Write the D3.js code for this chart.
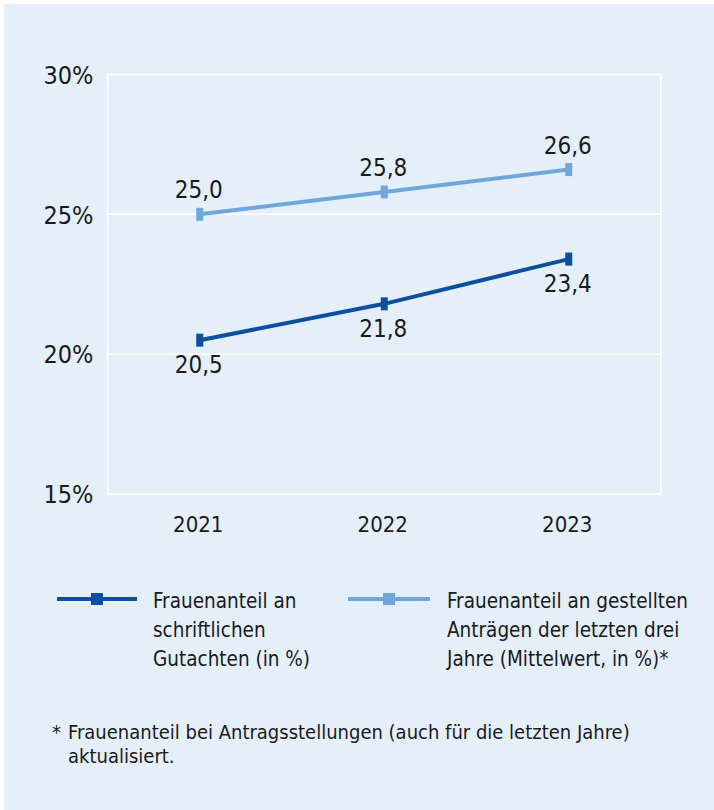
<!DOCTYPE html>
<html>
<head>
<meta charset="utf-8">
<script src="https://cdn.jsdelivr.net/npm/d3@7"></script>
<style>
  html, body { margin: 0; padding: 0; background: #fff; }
  svg text { font-family: "Liberation Sans Narrow", "DejaVu Sans Condensed", "Arial Narrow", sans-serif; fill: #1a1a1a; }
</style>
</head>
<body>
<div id="root"></div>
<script>
const years = ["2021", "2022", "2023"];
const gutachten = [20.5, 21.8, 23.4];
const antraege = [25.0, 25.8, 26.6];
const yTicks = [15, 20, 25, 30];
const legendLabels = [
  ["Frauenanteil an", "schriftlichen", "Gutachten (in %)"],
  ["Frauenanteil an gestellten", "Anträgen der letzten drei", "Jahre (Mittelwert, in %)*"]
];
const footnote = ["*", "Frauenanteil bei Antragsstellungen (auch für die letzten Jahre)", "aktualisiert."];

const width = 714, height = 810;
const margin = {top: 74.5, right: 53, bottom: 316, left: 107.5};
const darkBlue = "#0b4f9e", lightBlue = "#6fa6dc", bg = "#e5effa";

const svg = d3.select('#root').append('svg')
  .attr('width', width).attr('height', height);

svg.append('rect').attr('x', 4).attr('y', 4)
  .attr('width', width - 4).attr('height', height - 4).attr('fill', bg);

const x = d3.scalePoint().domain(years)
  .range([margin.left, width - margin.right]).padding(0.5);
const y = d3.scaleLinear().domain([15, 30])
  .range([height - margin.bottom, margin.top]);

// frame + grid
svg.append('rect')
  .attr('x', margin.left).attr('y', y(30))
  .attr('width', width - margin.right - margin.left).attr('height', y(15) - y(30))
  .attr('fill', 'none').attr('stroke', '#fff').attr('stroke-width', 1.5);
svg.selectAll('.grid').data([20, 25]).enter().append('line')
  .attr('x1', margin.left).attr('x2', width - margin.right)
  .attr('y1', d => y(d)).attr('y2', d => y(d))
  .attr('stroke', '#fff').attr('stroke-width', 1.5);

// axes
const yAxis = svg.append('g').attr('transform', `translate(${margin.left},0)`)
  .call(d3.axisLeft(y).tickValues(yTicks).tickFormat(d => d + '%').tickSize(0).tickPadding(14));
yAxis.select('.domain').remove();
yAxis.selectAll('text').style('font-size', '25px').attr('dy', '0.35em');

const xAxis = svg.append('g').attr('transform', `translate(0,${y(15)})`)
  .call(d3.axisBottom(x).tickSize(0).tickPadding(22));
xAxis.select('.domain').remove();
xAxis.selectAll('text').style('font-size', '22px').attr('dx', -2);

const series = [
  {values: antraege, color: lightBlue, above: true},
  {values: gutachten, color: darkBlue, above: false}
];
const line = d3.line().x((d, i) => x(years[i])).y(d => y(d));

series.forEach(s => {
  svg.append('path').datum(s.values)
    .attr('d', line).attr('fill', 'none')
    .attr('stroke', s.color).attr('stroke-width', 4);
  svg.selectAll(null).data(s.values).enter().append('rect')
    .attr('x', (d, i) => x(years[i]) - 3.5).attr('y', d => y(d) - 6.5)
    .attr('width', 7).attr('height', 13).attr('fill', s.color);
  svg.selectAll(null).data(s.values).enter().append('text')
    .attr('x', (d, i) => x(years[i]) - 1)
    .attr('y', d => s.above ? y(d) - 16 : y(d) + 33)
    .attr('text-anchor', 'middle').style('font-size', '24px')
    .text(d => d.toFixed(1).replace('.', ','));
});

// legend
const legendX = [[57, 137, 153], [348, 430, 447]];
const legendY = 599;
[darkBlue, lightBlue].forEach((c, i) => {
  const [x1, x2, tx] = legendX[i];
  svg.append('line').attr('x1', x1).attr('x2', x2)
    .attr('y1', legendY).attr('y2', legendY)
    .attr('stroke', c).attr('stroke-width', 4);
  svg.append('rect').attr('x', (x1 + x2) / 2 - 6).attr('y', legendY - 6)
    .attr('width', 12).attr('height', 12).attr('fill', c);
  const t = svg.append('text').attr('x', tx).attr('y', 607.5).style('font-size', '20.5px');
  legendLabels[i].forEach((l, j) => {
    t.append('tspan').attr('x', tx).attr('dy', j === 0 ? 0 : 29).text(l);
  });
});

// footnote
svg.append('text').attr('x', 52).attr('y', 739).style('font-size', '20px').text(footnote[0]);
svg.append('text').attr('x', 68).attr('y', 739).style('font-size', '20px').text(footnote[1]);
svg.append('text').attr('x', 68).attr('y', 763).style('font-size', '20px').text(footnote[2]);
</script>
</body>
</html>
